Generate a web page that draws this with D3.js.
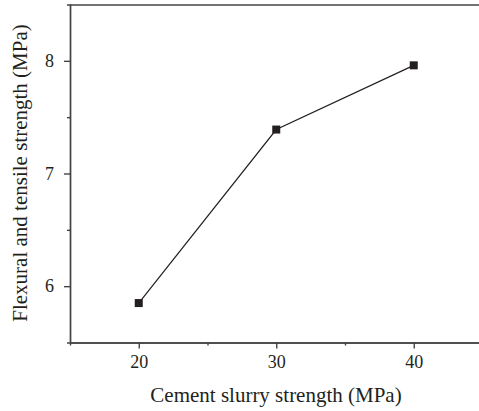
<!DOCTYPE html>
<html>
<head>
<meta charset="utf-8">
<script src="https://cdn.jsdelivr.net/npm/d3@7"></script>
<style>
  body { margin: 0; background: #fff; }
  svg { display: block; }
  .axis text { font-family: "Liberation Serif", "DejaVu Serif", serif; font-size: 18px; fill: #231f20; }
  .axis path, .axis line { stroke: #444; stroke-width: 1.4px; }
  .title { font-family: "Liberation Serif", "DejaVu Serif", serif; font-size: 21px; fill: #231f20; }
</style>
</head>
<body>
<div class="chart-container"></div>
<script>
const totalWidth = 479;
const totalHeight = 411;

// data
const slurry = [20, 30, 40];
const strength = [5.85, 7.39, 7.96];
const xTicks = [20, 30, 40];
const xMinor = [25, 35];
const yTicks = [6, 7, 8];
const yMinor = [6.5, 7.5];

const plotLeft = 70, plotTop = 5, plotBottom = 342.5;

const svg = d3.select(".chart-container")
    .append("svg")
    .attr("width", totalWidth)
    .attr("height", totalHeight);

const scaleX = d3.scaleLinear()
    .domain([15, 45])
    .range([plotLeft, plotLeft + 412.5]);

const scaleY = d3.scaleLinear()
    .domain([5.5, 8.5])
    .range([plotBottom, plotTop - 0.5]);

// minor ticks first
svg.append("g")
    .attr("class", "axis")
    .attr("transform", `translate(0,${plotBottom})`)
    .call(d3.axisBottom(scaleX).tickValues(xMinor).tickSize(3).tickFormat(""));
svg.append("g")
    .attr("class", "axis")
    .attr("transform", `translate(${plotLeft},0)`)
    .call(d3.axisLeft(scaleY).tickValues(yMinor).tickSize(3).tickFormat(""));

svg.append("g")
    .attr("class", "axis")
    .attr("transform", `translate(0,${plotBottom})`)
    .call(d3.axisBottom(scaleX).tickValues(xTicks).tickFormat(d3.format("d"))
        .tickSizeInner(6).tickSizeOuter(0).tickPadding(7));

svg.append("g")
    .attr("class", "axis")
    .attr("transform", `translate(${plotLeft},0)`)
    .call(d3.axisLeft(scaleY).tickValues(yTicks).tickFormat(d3.format("d"))
        .tickSizeInner(6).tickSizeOuter(0).tickPadding(10));

// top border
svg.append("line")
    .attr("x1", plotLeft).attr("x2", totalWidth)
    .attr("y1", plotTop).attr("y2", plotTop)
    .attr("stroke", "#444").attr("stroke-width", 1.6);

const pts = slurry.map((s, i) => ({x: s, y: strength[i]}));

svg.append("path")
    .datum(pts)
    .attr("fill", "none")
    .attr("stroke", "#231f20")
    .attr("stroke-width", 1.2)
    .attr("d", d3.line().x(d => scaleX(d.x)).y(d => scaleY(d.y)));

const ms = 8;
svg.selectAll(".pt")
    .data(pts)
    .enter()
    .append("rect")
    .attr("x", d => scaleX(d.x) - ms / 2)
    .attr("y", d => scaleY(d.y) - ms / 2)
    .attr("width", ms)
    .attr("height", ms)
    .attr("fill", "#231f20");

svg.append("text")
    .attr("class", "title")
    .attr("x", 276)
    .attr("y", 402)
    .attr("text-anchor", "middle")
    .text("Cement slurry strength (MPa)");

svg.append("text")
    .attr("class", "title")
    .attr("transform", "translate(27,173) rotate(-90)")
    .attr("text-anchor", "middle")
    .text("Flexural and tensile strength (MPa)");
</script>
</body>
</html>
